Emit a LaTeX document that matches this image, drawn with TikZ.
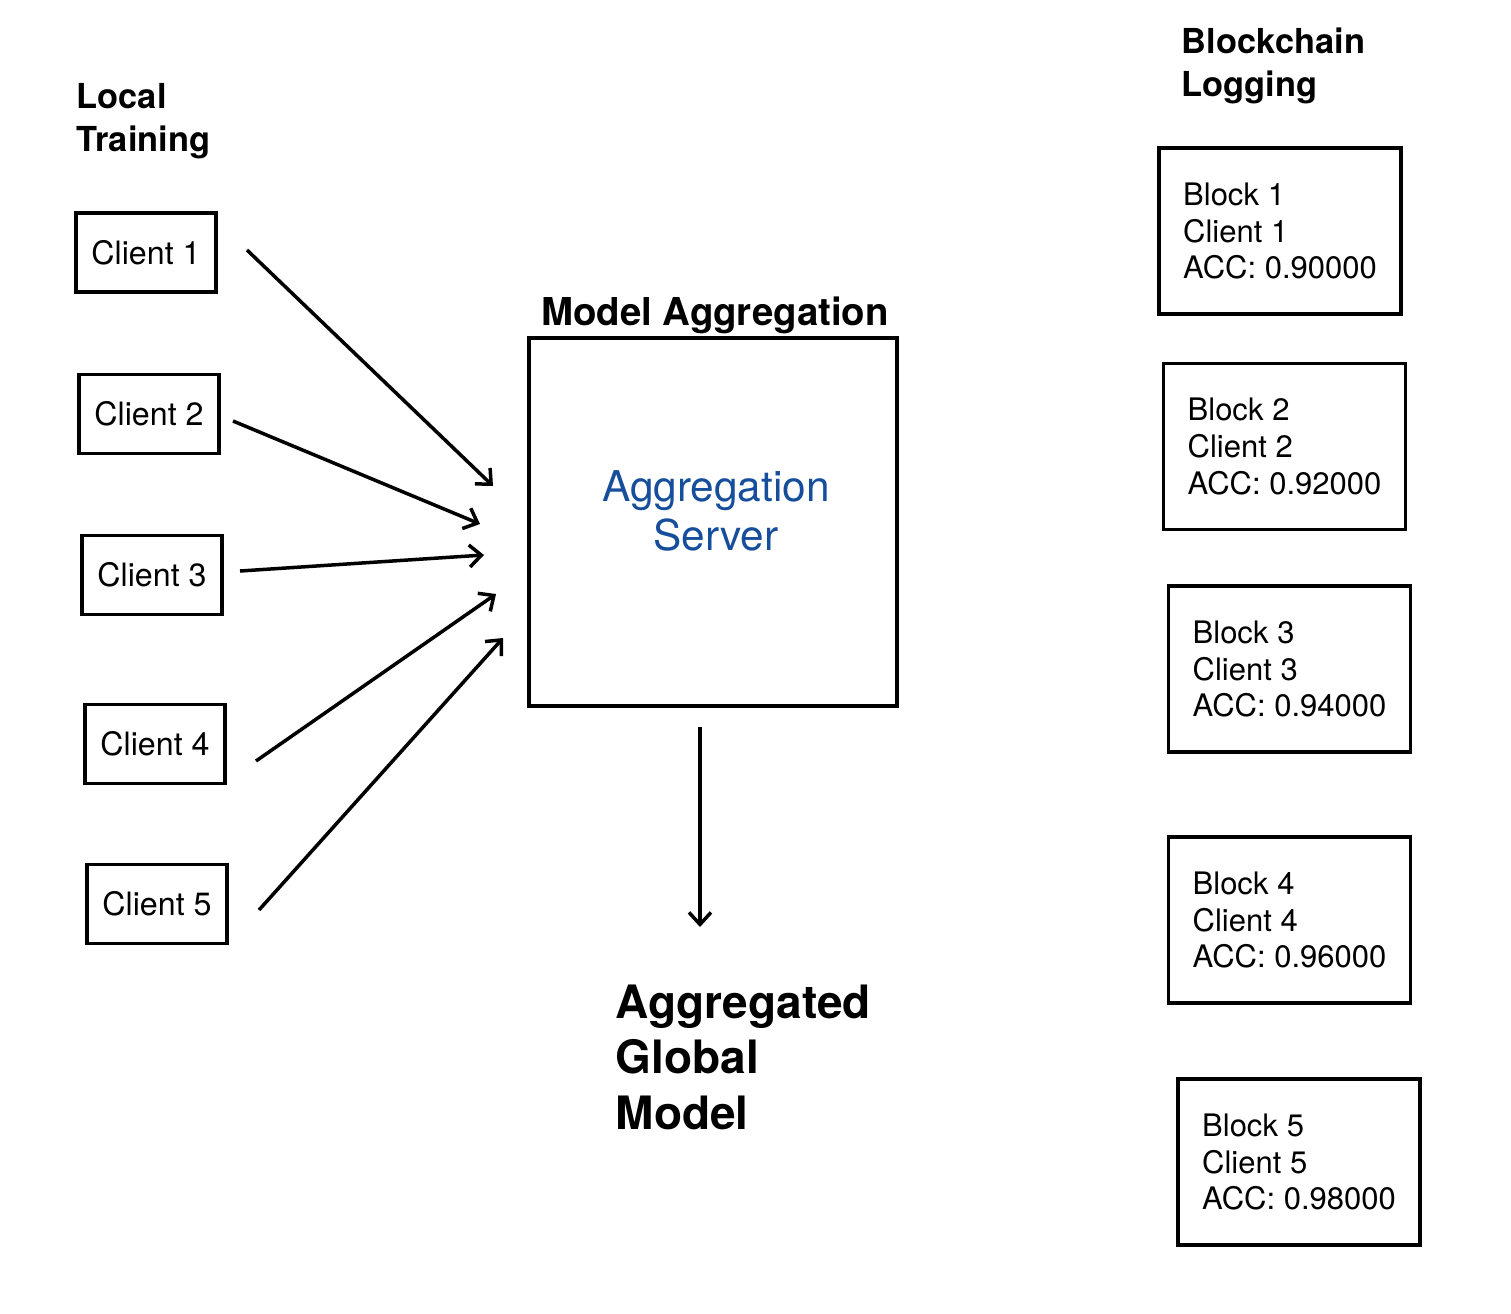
\documentclass[tikz,border=0pt]{standalone}
\usepackage{fontspec}
\setmainfont{TeX Gyre Heros}
\usetikzlibrary{arrows.meta}
\definecolor{aggblue}{RGB}{22,78,156}

\begin{document}
\begin{tikzpicture}[x=0.5pt,y=-0.5pt,line width=1.75pt,
    >={Straight Barb[length=6pt,width=11pt]},
    client/.style={draw,minimum width=70pt,minimum height=39.5pt,inner sep=0pt,
      font=\fontsize{16.1}{18}\selectfont},
    block/.style={draw,minimum width=121pt,minimum height=83pt,inner sep=0pt,
      align=left,font=\fontsize{15.5}{18.3}\selectfont},
    heading/.style={anchor=north west,align=left,inner sep=0pt,
      font=\bfseries\fontsize{17.2}{21.5}\selectfont}]
  \useasboundingbox (0,0) rectangle (1511,1313);

  % headings
  \node[heading] (local) at (75,82)   {Local\\Training};
  \node[heading] (chain) at (1180,26) {Blockchain\\Logging};

  % clients
  \node[client] (c1) at (146,252.5) {Client 1};
  \node[client] (c2) at (149,414)   {Client 2};
  \node[client] (c3) at (152,575)   {Client 3};
  \node[client] (c4) at (155,744)   {Client 4};
  \node[client] (c5) at (157,904)   {Client 5};

  % aggregation
  \node[anchor=base,inner sep=0pt,font=\bfseries\fontsize{19.2}{23}\selectfont]
    (aggtitle) at (715,325) {Model Aggregation};
  \node[draw,minimum size=184pt,inner sep=0pt] (server) at (713,522) {};
  \node[align=center,inner sep=0pt,text=aggblue,font=\fontsize{21.2}{24.5}\selectfont]
    (srvtext) at (716,511) {Aggregation\\Server};
  \node[heading,font=\bfseries\fontsize{23}{27.75}\selectfont]
    (global) at (614,983) {Aggregated\\Global\\Model};

  % blocks
  \node[block] (b1) at (1280,231)     {Block 1\\Client 1\\ACC: 0.90000};
  \node[block] (b2) at (1284.5,446.5) {Block 2\\Client 2\\ACC: 0.92000};
  \node[block] (b3) at (1289.5,669)   {Block 3\\Client 3\\ACC: 0.94000};
  \node[block] (b4) at (1289.5,920)   {Block 4\\Client 4\\ACC: 0.96000};
  \node[block] (b5) at (1299,1162)    {Block 5\\Client 5\\ACC: 0.98000};

  % arrow ends
  \coordinate (c1s) at (247,250); \coordinate (c1e) at (493,486);
  \coordinate (c2s) at (233,421); \coordinate (c2e) at (480,524);
  \coordinate (c3s) at (240,571); \coordinate (c3e) at (484,555);
  \coordinate (c4s) at (256,761); \coordinate (c4e) at (496,594);
  \coordinate (c5s) at (259,910); \coordinate (c5e) at (503,638);
  \coordinate (outs) at (700,727); \coordinate (oute) at (700,927);

  \draw[->] (c1s) -- (c1e);
  \draw[->] (c2s) -- (c2e);
  \draw[->] (c3s) -- (c3e);
  \draw[->] (c4s) -- (c4e);
  \draw[->] (c5s) -- (c5e);
  \draw[->] (outs) -- (oute);
\end{tikzpicture}
\end{document}
